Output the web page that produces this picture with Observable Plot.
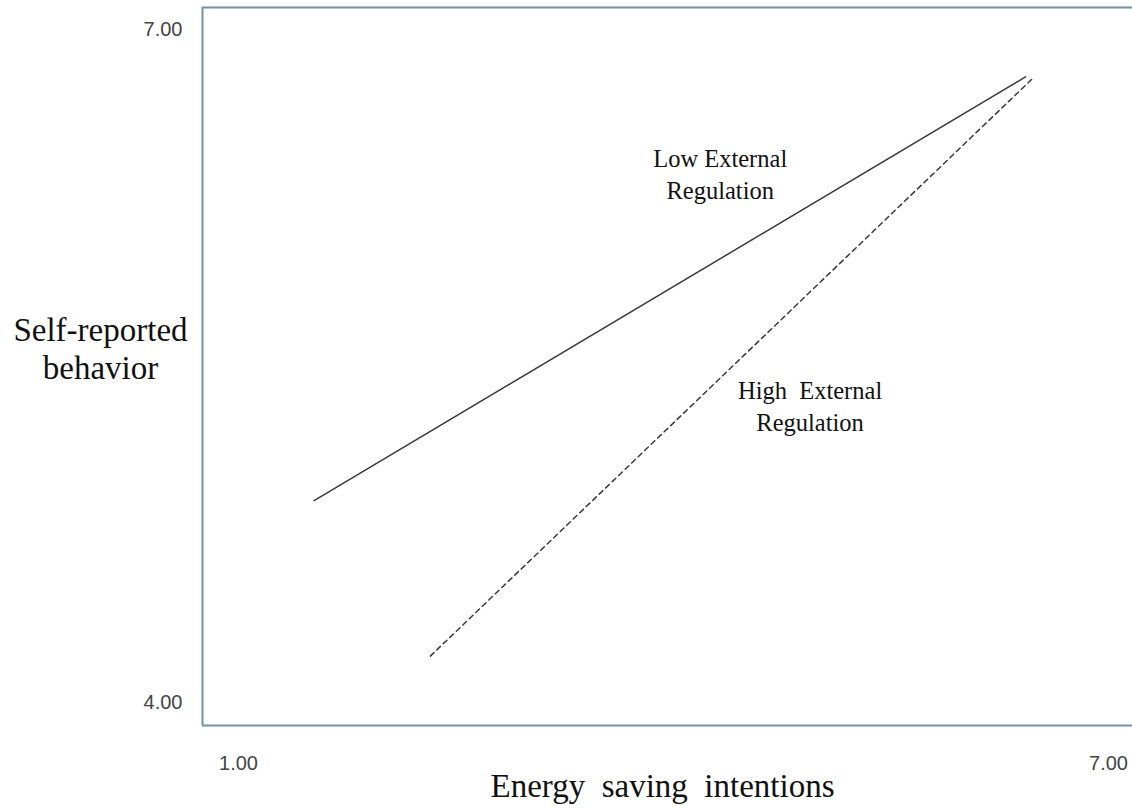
<!DOCTYPE html>
<html>
<head>
<meta charset="utf-8">
<script src="https://cdn.jsdelivr.net/npm/d3@7"></script>
<script src="https://cdn.jsdelivr.net/npm/@observablehq/plot@0.6"></script>
<style>
  html, body { margin: 0; padding: 0; background: #fff; }
  #chart svg { display: block; }
</style>
</head>
<body>
<div id="chart"></div>
<script>
// Series: endpoints of the two simple-slope lines
const groups = ["Low External Regulation", "High External Regulation"];
const intentions = [[1.72, 6.31], [2.47, 6.35]];
const behavior = [[4.94, 6.71], [4.29, 6.70]];

// Axis ticks
const xTicks = [1, 7];
const xTickLabels = ["1.00", "7.00"];
const yTicks = [7, 4];
const yTickLabels = ["7.00", "4.00"];

// Line annotations (anchor in data coordinates)
const labelText = ["Low External\nRegulation", "High  External\nRegulation"];
const labelX = [4.34, 4.92];
const labelY = [6.31, 5.34];

const xTitle = "Energy  saving  intentions";
const yTitle = "Self-reported\nbehavior";

const lines = [];
groups.forEach((g, i) => {
  intentions[i].forEach((x, j) => lines.push({group: g, x, y: behavior[i][j]}));
});
const labels = labelText.map((t, i) => ({text: t, x: labelX[i], y: labelY[i]}));

const frameColor = "#7191aa";
const serif = "'Liberation Serif', 'Times New Roman', serif";
const sans = "'Liberation Sans', Arial, sans-serif";

const chart = Plot.plot({
  width: 1132,
  height: 810,
  marginLeft: 202,
  marginRight: 0,
  marginTop: 7,
  marginBottom: 85,
  x: {domain: [1, 7], axis: null},
  y: {domain: [4, 7], axis: null},
  style: {background: "#fff"},
  marks: [
    // frame: left, top, bottom (open on the right)
    Plot.ruleX([1], {y1: 4, y2: 7, stroke: frameColor, strokeWidth: 2}),
    Plot.ruleY([4, 7], {x1: 1, x2: 7, stroke: frameColor, strokeWidth: 2}),
    // lines
    Plot.line(lines.filter(d => d.group === groups[0]), {x: "x", y: "y", stroke: "#3a3a3a", strokeWidth: 1.5}),
    Plot.line(lines.filter(d => d.group === groups[1]), {x: "x", y: "y", stroke: "#3a3a3a", strokeWidth: 1.5, strokeDasharray: "5,4"}),
    // annotations
    Plot.text(labels, {x: "x", y: "y", text: "text", fontFamily: serif, fontSize: 24.5, lineHeight: 1.3, fill: "#111"}),
    // y tick labels
    Plot.text([yTicks[0]], {x: 1, y: d => d, text: [yTickLabels[0]], dx: -20, dy: 22, textAnchor: "end", fontFamily: sans, fontSize: 20, fill: "#444"}),
    Plot.text([yTicks[1]], {x: 1, y: d => d, text: [yTickLabels[1]], dx: -20, dy: -23, textAnchor: "end", fontFamily: sans, fontSize: 20, fill: "#444"}),
    // x tick labels
    Plot.text([xTicks[0]], {x: d => d, y: 4, text: [xTickLabels[0]], dx: 36, dy: 38, fontFamily: sans, fontSize: 20, fill: "#444"}),
    Plot.text([xTicks[1]], {x: d => d, y: 4, text: [xTickLabels[1]], dx: -24, dy: 38, fontFamily: sans, fontSize: 20, fill: "#444"}),
    // axis titles
    Plot.text([yTitle], {frameAnchor: "left", textAnchor: "middle", dx: -102, dy: -19, text: d => d, fontFamily: serif, fontSize: 33, lineHeight: 1.17, fill: "#111"}),
    Plot.text([xTitle], {frameAnchor: "bottom", textAnchor: "middle", dx: -5, dy: 71, text: d => d, fontFamily: serif, fontSize: 33, fill: "#111"})
  ]
});
document.getElementById("chart").appendChild(chart);
</script>
</body>
</html>
